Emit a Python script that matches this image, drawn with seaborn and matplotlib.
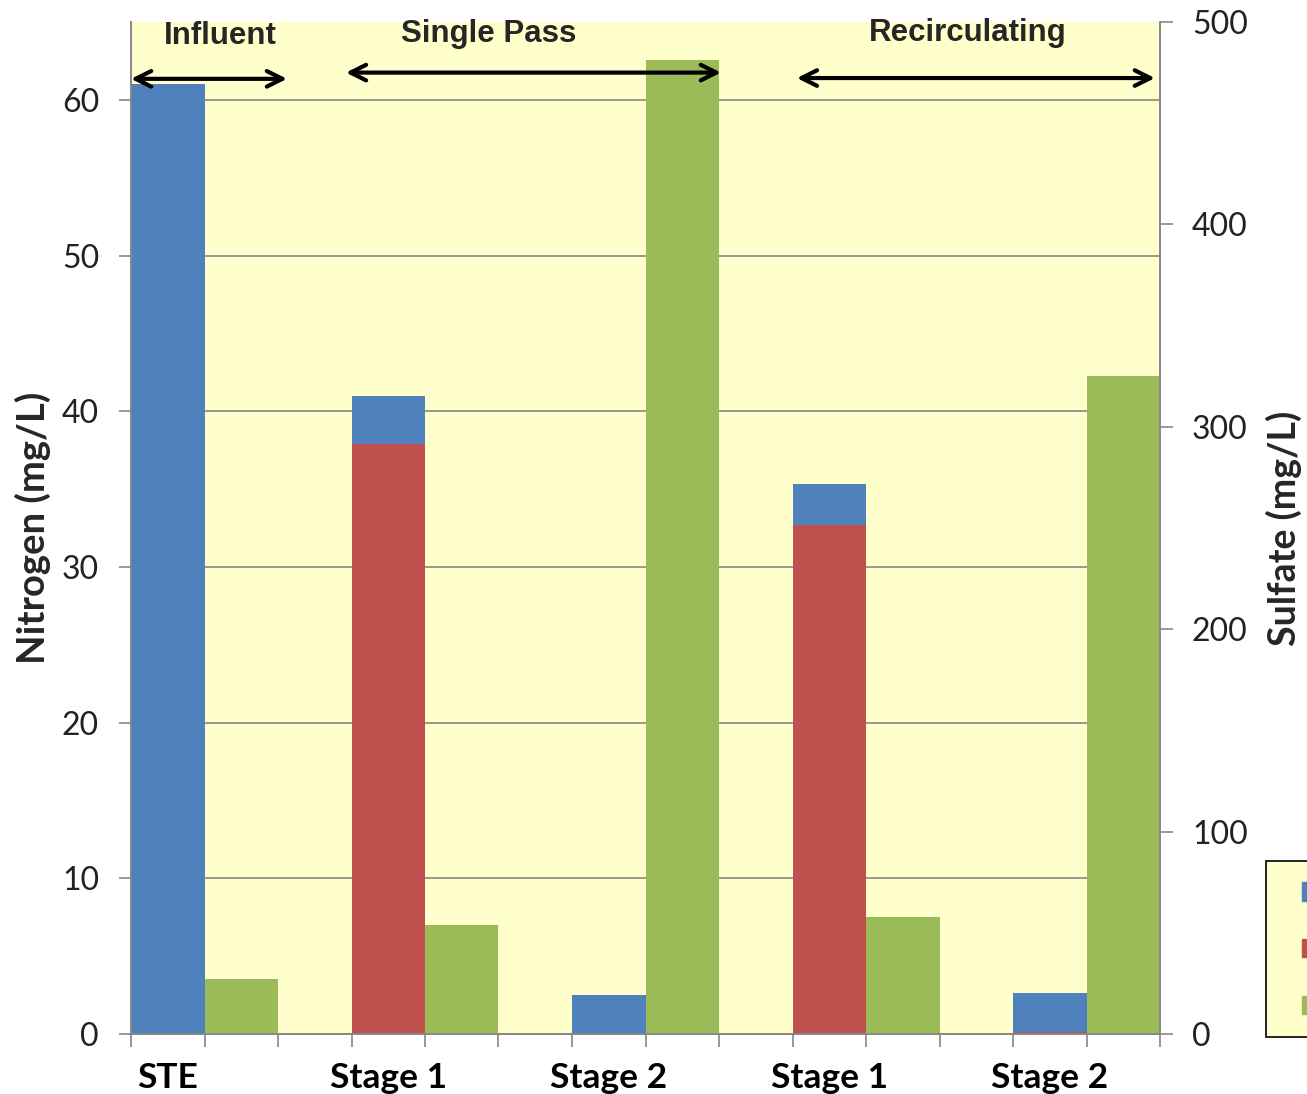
import numpy as np
import pandas as pd
import matplotlib
matplotlib.use("Agg")
import matplotlib.pyplot as plt
import seaborn as sns
from matplotlib.patches import Patch

# Sampling points along the two-stage treatment train
categories = ["STE", "Stage 1", "Stage 2", "Stage 1", "Stage 2"]
ammonium_n = [61.0, 3.1, 2.5, 2.6, 2.5]      # mg/L, stacked on top of nitrate
nitrate_n = [0.0, 37.9, 0.0, 32.7, 0.15]     # mg/L
sulfate = [27.0, 54.0, 481.0, 58.0, 325.0]   # mg/L, right axis

section_labels = ["Influent", "Single Pass", "Recirculating"]

BLUE = "#4F81BD"
RED = "#C0504D"
GREEN = "#9BBB59"
PANEL = "#FFFFCC"
AXIS_GREY = "#868686"

sns.set_theme(style="white")
plt.rcParams["font.family"] = ["Lato", "DejaVu Sans"]

pos = np.arange(len(categories), dtype=float)
bar_w = 1.0 / 3.0
total_n = [a + n for a, n in zip(ammonium_n, nitrate_n)]

df = pd.DataFrame({
    "pos": pos,
    "total_n": total_n,
    "nitrate": nitrate_n,
    "sulfate_pos": pos + bar_w,
    "sulfate": sulfate,
})

fig = plt.figure(figsize=(13.07, 10.94), dpi=100)
ax = fig.add_axes([131 / 1307, 1 - 1034 / 1094, (1160 - 131) / 1307, (1034 - 22) / 1094])
ax.set_facecolor(PANEL)
ax.set_axisbelow(True)

common = dict(native_scale=True, width=bar_w, errorbar=None, saturation=1, linewidth=0)
sns.barplot(data=df, x="pos", y="total_n", color=BLUE, ax=ax, **common)
sns.barplot(data=df, x="pos", y="nitrate", color=RED, ax=ax, **common)

ax2 = ax.twinx()
sns.barplot(data=df, x="sulfate_pos", y="sulfate", color=GREEN, ax=ax2, **common)

xmin, xmax = -1 / 6, 4.5
for a in (ax, ax2):
    a.set_xlim(xmin, xmax)
    a.set_xlabel("")

ax.set_ylim(0, 65)
ax.set_yticks(np.arange(0, 61, 10))
ax2.set_ylim(0, 500)
ax2.set_yticks(np.arange(0, 501, 100))

ax.yaxis.grid(True, color=AXIS_GREY, linewidth=1.2)
ax.xaxis.grid(False)
ax2.grid(False)

# category labels at the centres, tick marks at every bar edge
ax.set_xticks(pos)
ax.set_xticklabels(categories, fontsize=25.5, fontweight="bold", color="black")
ax.set_xticks(np.arange(xmin, xmax + 1e-6, bar_w), minor=True)
ax.tick_params(axis="x", which="major", length=0, pad=20)
ax.tick_params(axis="x", which="minor", length=9, width=1.2, color=AXIS_GREY, bottom=True)

ax.tick_params(axis="y", which="major", left=True, length=9, width=1.2,
               color=AXIS_GREY, labelsize=23, labelcolor="#222222", pad=14)
ax2.tick_params(axis="y", which="major", right=True, length=9, width=1.2,
                color=AXIS_GREY, labelsize=23, labelcolor="#222222", pad=14)

for a in (ax, ax2):
    for sp in a.spines.values():
        sp.set_color(AXIS_GREY)
        sp.set_linewidth(1.2)
    a.spines["top"].set_visible(False)

ax.set_ylabel("Nitrogen (mg/L)", fontsize=27.5, fontweight="bold", labelpad=8)
ax2.set_ylabel("Sulfate (mg/L)", fontsize=27, fontweight="bold", labelpad=13)

# section headers with double-headed arrows, drawn above all bars
arrow_spans = [(-1 / 6, 0.541, 61.35), (0.808, 2.509, 61.75), (2.853, 4.477, 61.4)]
text_pos = [(0.237, 64.1), (1.457, 64.25), (3.629, 64.3)]
for label, (x0, x1, y), (tx, ty) in zip(section_labels, arrow_spans, text_pos):
    ax2.annotate("", xy=(x1, y), xytext=(x0, y), xycoords=ax.transData,
                 textcoords=ax.transData,
                 arrowprops=dict(arrowstyle="<->", color="black", lw=3,
                                 mutation_scale=28, shrinkA=0, shrinkB=0),
                 annotation_clip=False, zorder=10)
    ax2.text(tx, ty, label, transform=ax.transData, ha="center", va="center",
             fontsize=22.5, fontweight="bold", zorder=10,
             family=["Liberation Sans", "DejaVu Sans"])

# series key, cut by the right edge of the figure
fs = 15
handles = [Patch(color=c) for c in (BLUE, RED, GREEN)]
leg = fig.legend(handles, ["", "", ""], loc="lower left",
                 bbox_to_anchor=(1266 / 1307, 1 - 1037 / 1094),
                 bbox_transform=fig.transFigure, markerfirst=False,
                 frameon=True, fontsize=fs, handlelength=0.9, handleheight=1.0,
                 labelspacing=1.75, borderpad=1.0, handletextpad=0.75,
                 borderaxespad=0)
frame = leg.get_frame()
frame.set_facecolor(PANEL)
frame.set_edgecolor("black")
frame.set_linewidth(1.2)
frame.set_alpha(1)
frame.set_boxstyle("square", pad=0)

fig.savefig("out.png", dpi=100, facecolor="white")
